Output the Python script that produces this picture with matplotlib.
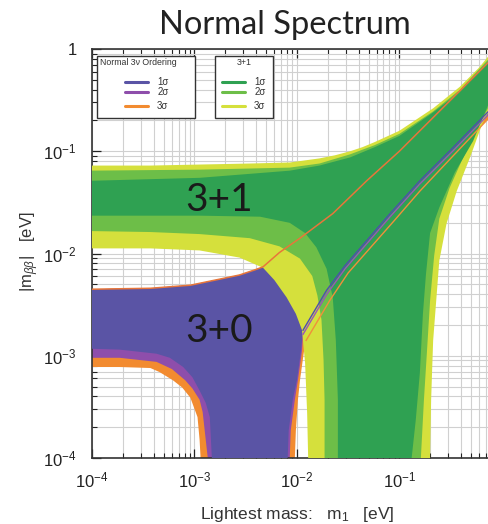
import matplotlib.pyplot as plt
import numpy as np
from matplotlib.patches import Rectangle
from matplotlib.ticker import LogLocator, NullFormatter

plt.rcParams['font.family'] = ['Liberation Sans', 'DejaVu Sans']
plt.rcParams['mathtext.fontset'] = 'custom'
plt.rcParams['mathtext.rm'] = 'Liberation Sans'
plt.rcParams['mathtext.it'] = 'Liberation Sans:italic'
plt.rcParams['mathtext.bf'] = 'Liberation Sans:bold'

# every outline below is log10(value in eV)
# 3+0 normal ordering: shared upper edge (left -> right)
nh_top_m1 = [-4.05, -3.43, -3.04, -2.75, -2.56, -2.41, -2.33, -2.17, -1.97, -1.65, -1.32, -1.00, -0.41, 0.10]
nh_top_mbb = [-2.35, -2.34, -2.31, -2.25, -2.21, -2.16, -2.13, -1.99, -1.85, -1.61, -1.29, -1.00, -0.41, 0.10]

# lower edge (right -> through the funnel -> left), 1/2/3 sigma
nh1_bot_m1 = [0.10, -0.13, -0.48, -0.80, -1.09, -1.53, -1.71, -1.94, -1.96, -2.00, -2.04, -2.08, -2.09,
              -2.09, -2.83, -2.83, -2.85, -2.89, -2.95, -3.02, -3.11, -3.24, -3.37, -3.73, -4.05]
nh1_bot_mbb = [-0.37, -0.61, -0.97, -1.29, -1.61, -2.12, -2.36, -2.75, -2.95, -3.24, -3.43, -3.73, -4.00,
               -4.30, -4.30, -4.00, -3.60, -3.46, -3.34, -3.21, -3.11, -3.02, -2.98, -2.94, -2.93]
nh2_bot_m1 = [0.10, -0.13, -0.48, -0.80, -1.09, -1.53, -1.71, -1.94, -1.95, -1.99, -2.02, -2.06, -2.07,
              -2.07, -2.87, -2.87, -2.90, -2.92, -2.95, -3.02, -3.09, -3.22, -3.37, -3.73, -4.05]
nh2_bot_mbb = [-0.41, -0.64, -1.00, -1.32, -1.64, -2.15, -2.40, -2.79, -2.95, -3.24, -3.43, -3.73, -4.00,
               -4.30, -4.30, -4.00, -3.73, -3.55, -3.43, -3.32, -3.24, -3.13, -3.06, -3.02, -3.02]
nh3_bot_m1 = [0.10, -0.13, -0.48, -0.80, -1.06, -1.50, -1.68, -1.91, -1.93, -1.97, -1.99, -2.01, -2.02,
              -2.02, -2.94, -2.94, -2.95, -2.97, -3.04, -3.12, -3.21, -3.34, -3.43, -3.73, -4.05]
nh3_bot_mbb = [-0.45, -0.68, -1.05, -1.39, -1.69, -2.19, -2.46, -2.85, -2.95, -3.24, -3.43, -3.73, -4.00,
               -4.30, -4.30, -4.00, -3.82, -3.60, -3.41, -3.31, -3.24, -3.16, -3.12, -3.11, -3.11]

# 3+1: upper edge (left -> right), then right wall, bottom, left wall, lower edge back to the left
st3_top_m1 = [-4.05, -3.43, -2.95, -2.46, -2.07, -1.78, -1.63, -1.48, -1.36, -1.24, -1.00, -0.67, -0.41,
              -0.22, -0.13, 0.10]
st3_top_mbb = [-1.14, -1.14, -1.13, -1.12, -1.11, -1.07, -1.04, -1.00, -0.96, -0.91, -0.80, -0.58, -0.37,
               -0.18, -0.07, 0.06]
st3_bot_m1 = [0.10, -0.13, -0.19, -0.31, -0.44, -0.54, -0.61, -0.64, -0.67, -0.69, -0.70, -0.70,
              -1.89, -1.89, -1.90, -1.92, -1.95, -2.01, -2.10, -2.22, -2.33, -2.56, -2.95, -3.43, -4.05]
st3_bot_mbb = [-0.45, -0.62, -0.73, -1.06, -1.39, -1.71, -2.07, -2.46, -2.85, -3.43, -4.00, -4.30,
               -4.30, -4.00, -3.56, -3.07, -2.75, -2.59, -2.43, -2.26, -2.14, -2.04, -1.97, -1.95, -1.95]

st2_top_m1 = [-4.05, -2.95, -2.07, -1.78, -1.48, -1.24, -1.00, -0.67, -0.41, -0.13, 0.10]
st2_top_mbb = [-1.19, -1.18, -1.16, -1.12, -1.03, -0.94, -0.83, -0.61, -0.40, -0.10, 0.03]
st2_bot_m1 = [0.10, -0.13, -0.25, -0.39, -0.51, -0.61, -0.66, -0.70, -0.73, -0.76, -0.79, -0.79,
              -1.73, -1.73, -1.73, -1.74, -1.76, -1.80, -1.85, -1.97, -2.17, -2.46, -2.95, -3.43, -4.05]
st2_bot_mbb = [-0.42, -0.57, -0.80, -1.09, -1.36, -1.66, -2.02, -2.46, -2.95, -3.43, -4.00, -4.30,
               -4.30, -4.00, -3.43, -3.04, -2.65, -2.41, -2.22, -2.05, -1.93, -1.85, -1.81, -1.79, -1.78]

st1_top_m1 = [-4.05, -2.95, -2.07, -1.78, -1.48, -1.24, -1.00, -0.67, -0.41, -0.13, 0.10]
st1_top_mbb = [-1.29, -1.26, -1.19, -1.14, -1.06, -0.96, -0.85, -0.62, -0.42, -0.12, 0.01]
st1_bot_m1 = [0.10, -0.13, -0.28, -0.46, -0.61, -0.70, -0.74, -0.77, -0.80, -0.84, -0.88, -0.88,
              -1.60, -1.60, -1.60, -1.62, -1.65, -1.71, -1.81, -1.92, -2.07, -2.36, -2.95, -4.05]
st1_bot_mbb = [-0.40, -0.54, -0.90, -1.21, -1.55, -1.80, -2.20, -2.59, -3.17, -3.63, -4.00, -4.30,
               -4.30, -4.00, -3.43, -2.85, -2.43, -2.15, -1.94, -1.80, -1.70, -1.64, -1.63, -1.63]

sigma_labels = ['1σ', '2σ', '3σ']
nh_colors = ['#5a54a5', '#8e4eab', '#f28b30']
nh_line_colors = ['#4e4cb0', '#9a55b8', '#f0903a']
st_colors = ['#2fa152', '#6dbe48', '#d5e03c']

x_ticks = [1e-4, 1e-3, 1e-2, 1e-1]
x_tick_labels = ['$10^{-4}$', '$10^{-3}$', '$10^{-2}$', '$10^{-1}$']
y_ticks = [1e-4, 1e-3, 1e-2, 1e-1, 1]
y_tick_labels = ['$10^{-4}$', '$10^{-3}$', '$10^{-2}$', '$10^{-1}$', '1']

fig = plt.figure(figsize=(4.89, 5.24), dpi=100)
ax = fig.add_axes([92 / 489, 66 / 524, 397 / 489, 409 / 524])
ax.set_xscale('log')
ax.set_yscale('log')


def band(top_x, top_y, bot_x, bot_y, color, z):
    xs = 10 ** np.array(top_x + bot_x)
    ys = 10 ** np.array(top_y + bot_y)
    ax.fill(xs, ys, color=color, lw=0, zorder=z)


# 3+0 first (widest band at the back)
band(nh_top_m1, nh_top_mbb, nh3_bot_m1, nh3_bot_mbb, nh_colors[2], 1)
band(nh_top_m1, nh_top_mbb, nh2_bot_m1, nh2_bot_mbb, nh_colors[1], 2)
band(nh_top_m1, nh_top_mbb, nh1_bot_m1, nh1_bot_mbb, nh_colors[0], 3)

# 3+1 on top
band(st3_top_m1, st3_top_mbb, st3_bot_m1, st3_bot_mbb, st_colors[2], 4)
band(st2_top_m1, st2_top_mbb, st2_bot_m1, st2_bot_mbb, st_colors[1], 5)
band(st1_top_m1, st1_top_mbb, st1_bot_m1, st1_bot_mbb, st_colors[0], 6)

# 3+0 edges drawn over the green
ax.plot(10 ** np.array(nh_top_m1), 10 ** np.array(nh_top_mbb), color='#e8763a', lw=1.1, zorder=7)
for bx, by, c in [(nh3_bot_m1, nh3_bot_mbb, nh_line_colors[2]),
                  (nh2_bot_m1, nh2_bot_mbb, nh_line_colors[1]),
                  (nh1_bot_m1, nh1_bot_mbb, nh_line_colors[0])]:
    ax.plot(10 ** np.array(bx[:8]), 10 ** np.array(by[:8]), color=c, lw=1.0, zorder=7)

ax.set_xlim(1e-4, 0.75)
ax.set_ylim(1e-4, 1)

ax.set_xticks(x_ticks)
ax.set_xticklabels(x_tick_labels)
ax.set_yticks(y_ticks)
ax.set_yticklabels(y_tick_labels)
ax.xaxis.set_minor_locator(LogLocator(base=10, subs=np.arange(2, 10), numticks=20))
ax.yaxis.set_minor_locator(LogLocator(base=10, subs=np.arange(2, 10), numticks=20))
ax.xaxis.set_minor_formatter(NullFormatter())
ax.yaxis.set_minor_formatter(NullFormatter())

ax.grid(True, which='both', color='#d0d0d0', lw=0.8)
ax.set_axisbelow(True)
ax.tick_params(which='both', direction='in', top=True, right=False, color='#222', labelcolor='#222')
ax.tick_params(which='major', length=6.5, width=0.9, labelsize=12)
ax.tick_params(which='minor', length=3.5, width=0.8)
ax.tick_params(axis='x', pad=9)
ax.tick_params(axis='y', pad=11)
ax.spines['right'].set_visible(False)
for s in ['left', 'bottom', 'top']:
    ax.spines[s].set_color('#333')
    ax.spines[s].set_linewidth(1.2)

ax.text(0.234, 0.631, '3+1', transform=ax.transAxes, fontsize=28, family='Lato',
        color='#1a1a1a', va='center', ha='left', zorder=8)
ax.text(0.234, 0.31, '3+0', transform=ax.transAxes, fontsize=28, family='Lato',
        color='#1a1a1a', va='center', ha='left', zorder=8)

# the two legend boxes
boxes = [(0.0126, 'Normal 3ν Ordering', nh_colors), (0.3098, '3+1', st_colors)]
for i, (x0, title, cols) in enumerate(boxes):
    w = 0.2468 if i == 0 else 0.1461
    ax.add_patch(Rectangle((x0, 0.8313), w, 0.1516, transform=ax.transAxes, facecolor='white',
                           edgecolor='#333', lw=1.0, zorder=10, clip_on=False))
    if i == 0:
        ax.text(x0 + 0.008, 0.9658, title, transform=ax.transAxes, fontsize=6.3, color='#333',
                va='center', ha='left', zorder=11)
    else:
        ax.text(x0 + w / 2, 0.9658, title, transform=ax.transAxes, fontsize=6.3, color='#333',
                va='center', ha='center', zorder=11)
    lx = x0 + (0.0705 if i == 0 else 0.0177)
    for lab, c, yy in zip(sigma_labels, cols, [0.9193, 0.8949, 0.8606]):
        ax.plot([lx, lx + 0.058], [yy, yy], transform=ax.transAxes, color=c, lw=2.2,
                solid_capstyle='round', zorder=11, clip_on=False)
        ax.text(lx + 0.081, yy, lab, transform=ax.transAxes, fontsize=7, color='#333',
                va='center', ha='left', zorder=11)

fig.text(0.583, 0.952, 'Normal Spectrum', fontsize=23.5, family='Lato', color='#222',
         ha='center', va='center')
fig.text(0.607, 0.019, 'Lightest mass:   m$_1$   [eV]', fontsize=12.5, color='#333',
         ha='center', va='center')
fig.text(0.061, 0.519, '|m$_{\\beta\\beta}$|   [eV]', fontsize=12, color='#333', rotation=90,
         ha='center', va='center')

plt.savefig('out.png', dpi=100)
